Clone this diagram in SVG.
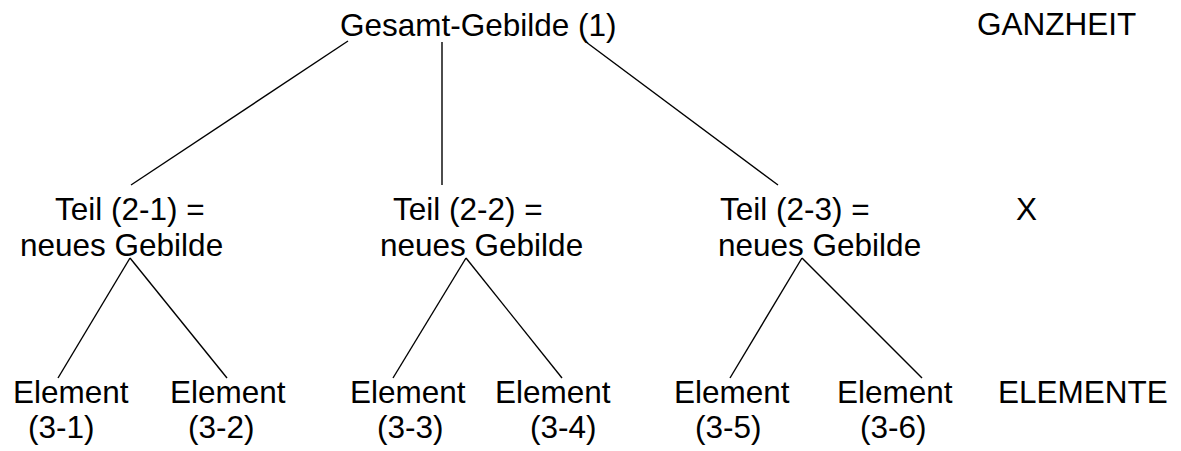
<svg xmlns="http://www.w3.org/2000/svg" width="1181" height="451" viewBox="0 0 1181 451">
<style>
text{font-family:"Liberation Sans",Arial,sans-serif;font-size:31.5px;fill:#000}
.c line{stroke:#000;stroke-width:1.4;fill:none}
</style>
<rect width="1181" height="451" fill="#fff"/>
<g class="c" id="connectors">
<line x1="348" y1="41" x2="131" y2="185"/>
<line x1="442" y1="42" x2="442" y2="185"/>
<line x1="586" y1="42" x2="778" y2="185"/>
<line x1="130" y1="258" x2="58" y2="378"/>
<line x1="130" y1="258" x2="227" y2="378"/>
<line x1="466" y1="258" x2="393" y2="378"/>
<line x1="466" y1="258" x2="562" y2="378"/>
<line x1="802" y1="258" x2="730" y2="378"/>
<line x1="802" y1="258" x2="922" y2="378"/>
</g>
<g id="n1"><text x="340" y="36">Gesamt-Gebilde (1)</text></g>
<g id="ganzheit"><text x="977" y="35">GANZHEIT</text></g>
<g id="n2-1"><text x="55" y="220">Teil (2-1) =</text><text x="20" y="256">neues Gebilde</text></g>
<g id="n2-2"><text x="393" y="220">Teil (2-2) =</text><text x="380" y="256">neues Gebilde</text></g>
<g id="n2-3"><text x="720" y="220">Teil (2-3) =</text><text x="718" y="256">neues Gebilde</text></g>
<g id="x"><text x="1016" y="220">X</text></g>
<g id="n3-1"><text x="13" y="403">Element</text><text x="28" y="438">(3-1)</text></g>
<g id="n3-2"><text x="170" y="403">Element</text><text x="188" y="438">(3-2)</text></g>
<g id="n3-3"><text x="350" y="403">Element</text><text x="377" y="438">(3-3)</text></g>
<g id="n3-4"><text x="495" y="403">Element</text><text x="530" y="438">(3-4)</text></g>
<g id="n3-5"><text x="674" y="403">Element</text><text x="695" y="438">(3-5)</text></g>
<g id="n3-6"><text x="837" y="403">Element</text><text x="860" y="438">(3-6)</text></g>
<g id="elemente"><text x="998" y="403">ELEMENTE</text></g>
</svg>
